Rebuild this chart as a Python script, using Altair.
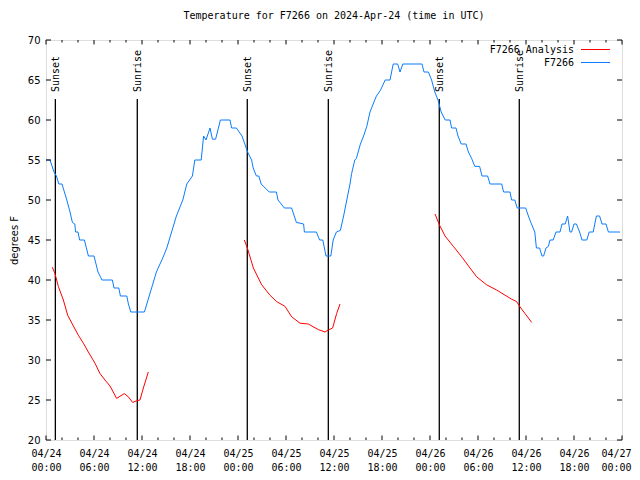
import altair as alt
import pandas as pd

BASE = pd.Timestamp("2024-04-24T00:00:00Z")

# Observed F7266 temperature (hours after 2024-04-24 00:00 UTC, deg F)
obs_hours = [0.0, 0.5, 1.0, 1.3, 1.6, 2.0, 2.6, 3.0, 3.3, 3.6, 3.7, 4.0, 4.2, 4.8, 5.3, 6.0, 6.5, 7.0,
             8.3, 8.5, 9.1, 9.3, 10.1, 10.3, 10.6, 12.3, 12.6, 13.2, 13.8, 14.7, 15.1, 15.7, 16.3,
             17.1, 17.6, 18.3, 18.6, 19.4, 19.7, 20.0, 20.5, 20.8, 21.2, 21.8, 23.0, 23.2, 23.8,
             24.5, 25.2, 25.7, 25.9, 26.3, 26.6, 26.9, 27.9, 28.8, 29.0, 29.8, 30.7, 31.3, 32.2,
             32.3, 33.8, 34.2, 34.6, 35.0, 35.6, 35.9, 36.3, 36.8, 37.2, 37.6, 38.0, 38.2, 38.6,
             38.8, 39.3, 39.7, 40.1, 40.5, 40.9, 41.3, 41.8, 42.4, 43.0, 43.2, 43.4, 43.96, 44.25,
             44.6, 47.0, 47.25, 47.8, 48.2, 48.6, 49.0, 49.4, 49.9, 50.5, 50.7, 51.25, 51.5, 51.9,
             52.5, 52.8, 53.2, 53.6, 54.2, 54.5, 55.2, 55.5, 56.96, 57.2, 58.0, 58.2, 58.6, 58.9,
             59.96, 60.3, 60.6, 61.1, 61.3, 61.7, 62.0, 62.2, 62.5, 62.8, 63.0, 63.4, 63.75, 64.25,
             64.5, 64.9, 65.2, 65.5, 65.7, 66.0, 66.3, 66.7, 67.0, 67.6, 67.9, 68.4, 68.8, 69.2,
             69.5, 70.0, 70.3, 71.75]
obs_temps = [55, 55, 53.5, 53, 52, 52, 50, 48.5, 47.2, 47, 46, 46, 45, 45, 43, 43, 41, 40,
             40, 39, 39, 38, 38, 37, 36, 36, 37, 39, 41, 43, 44, 46, 48,
             50, 52, 53, 55, 55, 58, 57.5, 59, 57.6, 57.6, 60, 60, 59, 59,
             58, 56, 55, 54, 53, 53, 52, 51, 51, 50, 49, 49, 47.2, 47,
             46, 46, 45, 45, 43, 43, 45, 46, 46.2, 48, 50, 52, 53.3, 55,
             55.2, 57, 58, 59.2, 61, 62, 63, 63.7, 65, 65, 66, 67, 67, 66,
             67, 67, 66, 66, 65, 63.5, 62.5, 61, 60, 60, 59, 59, 58, 57,
             57, 56, 55.2, 54.2, 54.2, 53, 53, 52, 52, 51, 51, 50, 50, 49,
             49, 48, 47.2, 46, 44, 44, 43, 43, 44, 44.2, 45, 45, 46, 46,
             47, 47, 48, 46, 46, 47, 47, 46, 45, 45, 46, 46, 48, 48,
             47, 47, 46, 46]

# F7266 Analysis, three separate segments
ana_seg1_hours = [0.79, 1.12, 1.54, 2.17, 2.71, 3.42, 4.04, 4.67, 5.29, 6.12, 6.75, 7.37, 8.0,
                  8.83, 9.79, 10.29, 10.83, 11.33, 11.75, 12.17, 12.79]
ana_seg1_temps = [41.6, 40.8, 39.2, 37.5, 35.6, 34.25, 33.1, 32.1, 31.0, 29.6, 28.3, 27.5, 26.75,
                  25.2, 25.8, 25.4, 24.7, 24.9, 25.0, 26.5, 28.5]
ana_seg2_hours = [24.79, 25.17, 25.92, 26.96, 28.0, 28.83, 29.88, 30.71, 31.75, 32.79, 34.04,
                  34.88, 35.29, 35.83, 36.33, 36.75]
ana_seg2_temps = [45.0, 44.0, 41.5, 39.4, 38.1, 37.3, 36.7, 35.4, 34.6, 34.5, 33.8,
                  33.5, 33.75, 34.0, 35.8, 37.0]
ana_seg3_hours = [48.63, 49.17, 49.88, 50.92, 51.96, 53.0, 53.83, 55.08, 56.33, 57.38, 58.21,
                  58.83, 59.17, 59.88, 60.71]
ana_seg3_temps = [48.25, 46.9, 45.5, 44.2, 42.9, 41.5, 40.4, 39.4, 38.75, 38.1, 37.6,
                  37.3, 36.75, 35.8, 34.7]

sun_names = ["Sunset", "Sunrise", "Sunset", "Sunrise", "Sunset", "Sunrise"]
sun_hours = [1.17, 11.41, 25.16, 35.29, 49.16, 59.16]

series_names = ["F7266 Analysis", "F7266"]
series_colors = ["#ff0000", "#0a7cff"]

x_major_hours = list(range(0, 73, 6))
x_minor_hours = [h for h in range(0, 73, 2) if h % 6 != 0]
y_ticks = list(range(20, 71, 5))

TITLE = "Temperature for F7266 on 2024-Apr-24 (time in UTC)"
MONO = "DejaVu Sans Mono"
SANS = "DejaVu Sans"


def iso(h):
    return (BASE + pd.Timedelta(hours=h)).strftime("%Y-%m-%dT%H:%M:%SZ")


def ms(h):
    return int((BASE + pd.Timedelta(hours=h)).timestamp() * 1000)


obs_df = pd.DataFrame({"time": [iso(h) for h in obs_hours], "temp": obs_temps,
                       "series": series_names[1], "seg": 0})
ana_rows = []
for s, (hs, ts) in enumerate([(ana_seg1_hours, ana_seg1_temps),
                              (ana_seg2_hours, ana_seg2_temps),
                              (ana_seg3_hours, ana_seg3_temps)]):
    for h, t in zip(hs, ts):
        ana_rows.append({"time": iso(h), "temp": t, "series": series_names[0], "seg": s + 1})
ana_df = pd.DataFrame(ana_rows)
sun_df = pd.DataFrame({"time": [iso(h) for h in sun_hours], "name": sun_names})
major_df = pd.DataFrame({"time": [iso(h) for h in x_major_hours]})
minor_df = pd.DataFrame({"time": [iso(h) for h in x_minor_hours]})
ytick_df = pd.DataFrame({"temp": y_ticks})

W, H = 576, 400

xscale = alt.Scale(type="utc", domain=[ms(0), ms(72)], nice=False)
yscale = alt.Scale(domain=[20, 70], nice=False, zero=False)
cscale = alt.Scale(domain=series_names, range=series_colors)

x_axis = alt.Axis(values=[ms(h) for h in x_major_hours],
                  labelExpr="[utcFormat(datum.value, '%m/%d'), utcFormat(datum.value, '%H:%M')]",
                  title=None, grid=False, ticks=False, domain=False,
                  labelFont=MONO, labelFontSize=10, labelColor="black",
                  labelFlush=False, labelOverlap=False, labelAlign="center",
                  labelOffset={"condition": {"test": f"datum.value >= {ms(72)}", "value": -6},
                               "value": 0},
                  labelBaseline="top", labelPadding=8, labelLineHeight=14)
y_axis = alt.Axis(values=y_ticks, title="degrees F", grid=False, ticks=False, domain=False,
                  labelFont=SANS, labelFontSize=10, labelColor="black", labelPadding=6,
                  titleFont=SANS, titleFontSize=10, titleFontWeight="normal", titleColor="black",
                  titleAngle=270, titleX=-32, titleY=200, titleAlign="center",
                  titleBaseline="middle")

X = alt.X("time:T", scale=xscale, axis=x_axis)
Y = alt.Y("temp:Q", scale=yscale, axis=y_axis)

obs_line = alt.Chart(obs_df).mark_line(strokeWidth=1, interpolate="linear").encode(
    x=X, y=Y, color=alt.Color("series:N", scale=cscale, legend=None))
ana_line = alt.Chart(ana_df).mark_line(strokeWidth=1).encode(
    x=X, y=Y, detail="seg:N", color=alt.Color("series:N", scale=cscale, legend=None))

sun_rules = alt.Chart(sun_df).mark_rule(color="black", strokeWidth=1.3).encode(
    x=X, y=alt.value(59), y2=alt.value(H))
sun_text = alt.Chart(sun_df).mark_text(angle=270, align="left", baseline="middle", dy=1,
                                       font=MONO, fontSize=10, color="black").encode(
    x=X, y=alt.value(52), text="name:N")

tick_major_b = alt.Chart(major_df).mark_rule(color="black").encode(
    x=X, y=alt.value(H), y2=alt.value(H - 4.5))
tick_major_t = alt.Chart(major_df).mark_rule(color="black").encode(
    x=X, y=alt.value(0), y2=alt.value(4.5))
tick_minor_b = alt.Chart(minor_df).mark_rule(color="black").encode(
    x=X, y=alt.value(H), y2=alt.value(H - 2.5))
tick_minor_t = alt.Chart(minor_df).mark_rule(color="black").encode(
    x=X, y=alt.value(0), y2=alt.value(2.5))
ytick_l = alt.Chart(ytick_df).mark_rule(color="black").encode(
    y=Y, x=alt.value(0), x2=alt.value(5))
ytick_r = alt.Chart(ytick_df).mark_rule(color="black").encode(
    y=Y, x=alt.value(W), x2=alt.value(W - 5))

leg_layers = []
for i, (nm, col) in enumerate(zip(series_names, series_colors)):
    yy = 9.5 + 13 * i
    leg_df = pd.DataFrame({"name": [nm]})
    leg_layers.append(alt.Chart(leg_df).mark_text(align="right", baseline="middle", font=MONO,
                                                  fontSize=10, color="black").encode(
        x=alt.value(528), y=alt.value(yy), text="name:N"))
    leg_layers.append(alt.Chart(leg_df).mark_rule(color=col, strokeWidth=1).encode(
        x=alt.value(535), x2=alt.value(564), y=alt.value(yy)))

chart = alt.layer(
    sun_rules, sun_text, ana_line, obs_line,
    tick_major_b, tick_major_t, tick_minor_b, tick_minor_t, ytick_l, ytick_r,
    *leg_layers
).properties(
    width=W, height=H,
    title=alt.TitleParams(TITLE, font=MONO, fontSize=10, fontWeight="normal", color="black",
                          anchor="middle", offset=14),
    autosize=alt.AutoSizeParams(type="none"),
    padding={"left": 38, "top": 32, "right": 10, "bottom": 32},
).configure_view(stroke="black", strokeWidth=1).configure(background="white")

chart.save("out.html", embed_options={"renderer": "svg", "actions": False})
